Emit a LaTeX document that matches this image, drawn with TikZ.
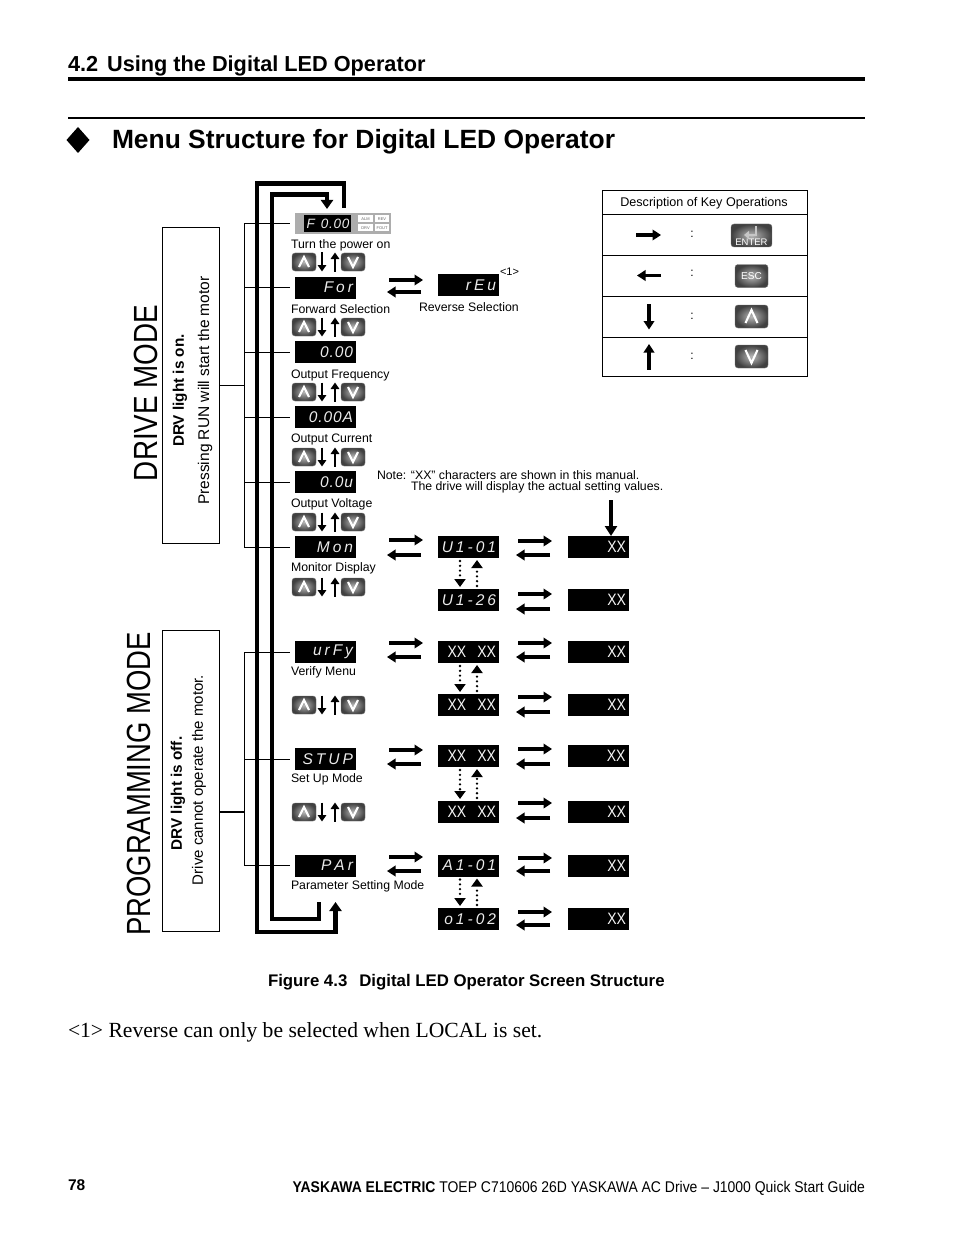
\documentclass[tikz,border=0pt]{standalone}
\usepackage{fontspec}
\setmainfont{Liberation Sans}
\newfontfamily\timesf{Liberation Serif}
\newfontfamily\segf[LetterSpace=6]{Liberation Sans}
\usetikzlibrary{arrows.meta,calc,shapes.geometric}
\newcommand{\fs}[1]{\fontsize{#1}{#1}\selectfont}
\newcommand{\sg}{\hspace{3pt}}
\newcommand{\XX}{\scalebox{.85}[1]{XX}}
\tikzset{
  every node/.style={inner sep=0pt,outer sep=0pt},
  lbl/.style={anchor=base west,font=\fs{12.3}},
  dispbox/.style={fill=black,text=black!8,anchor=west,minimum height=22pt,text width=55pt,inner xsep=3pt,align=right,font=\fs{15.5}\segf\itshape},
  xxbox/.style={fill=black,text=black!4,anchor=west,minimum height=22pt,text width=55pt,inner xsep=3pt,align=right,font=\fs{16.5}},
  keybox/.style={rounded corners=3pt,minimum width=24pt,minimum height=18pt,shading=radial,inner color=black!28,outer color=black!75,draw=black!55,line width=.4pt},
  chev/.style={white,line width=2.1pt,line join=miter},
  thinln/.style={line width=1pt,black},
  loopline/.style={line width=4.6pt,black,line join=miter},
  pairarr/.style={line width=4pt,-{Triangle[length=8.5pt,width=10.5pt]}},
  updown/.style={line width=2.4pt,-{Triangle[length=6.5pt,width=8.5pt]}},
  tabarr/.style={line width=3.2pt,-{Triangle[length=8.5pt,width=10.5pt]}},
  dotarr/.style={line width=2.6pt,dash pattern=on 0pt off 4.8pt,line cap=round,shorten >=2pt,shorten <=3pt,-{Triangle[length=8pt,width=11pt,sep=0pt]}},
  modelbl/.style={rotate=90,font=\fs{33.5}},
  smallbox/.style={font=\fs{4},fill=white,text=black!60,minimum width=14.5pt,minimum height=7pt},
}
\newcommand{\dsp}[4]{\node[dispbox] (#1) at (#2,#3) {#4\hspace{1.5pt}};}
\newcommand{\dxx}[4]{\node[xxbox] (#1) at (#2,#3) {#4};}
\newcommand{\keyup}[3]{\node[keybox,minimum width=33pt,minimum height=23pt] (#1) at (#2,#3) {};\draw[chev] ($(#1)+(-6,6.5)$) -- ($(#1)+(0,-6.5)$) -- ($(#1)+(6,6.5)$);}
\newcommand{\keydn}[3]{\node[keybox,minimum width=33pt,minimum height=23pt] (#1) at (#2,#3) {};\draw[chev] ($(#1)+(-6,-6.5)$) -- ($(#1)+(0,6.5)$) -- ($(#1)+(6,-6.5)$);}
\newcommand{\keyrow}[2]{%
  \node[keybox] (#1u) at (304,#2) {};
  \draw[chev] ($(#1u)+(-5,5)$) -- ($(#1u)+(0,-5)$) -- ($(#1u)+(5,5)$);
  \node[keybox] (#1d) at (353,#2) {};
  \draw[chev] ($(#1d)+(-5,-5)$) -- ($(#1d)+(0,5)$) -- ($(#1d)+(5,-5)$);
  \coordinate (#1a) at (322,#2-9.5);\coordinate (#1b) at (322,#2+9.5);
  \coordinate (#1c) at (335,#2+9.5);\coordinate (#1e) at (335,#2-9.5);
  \draw[updown] (#1a) -- (#1b);
  \draw[updown] (#1c) -- (#1e);}
\newcommand{\pairar}[4]{%
  \coordinate (#1a) at (#2+2,#3);\coordinate (#1b) at (#2+36,#3);
  \coordinate (#1c) at (#2+34,#4);\coordinate (#1d) at (#2,#4);
  \draw[pairarr] (#1a) -- (#1b);
  \draw[pairarr] (#1c) -- (#1d);}
\newcommand{\dotpair}[2]{%
  \draw[dotarr] ([xshift=-8.5pt]#1.south) -- ([xshift=-8.5pt]#2.north);
  \draw[dotarr] ([xshift=8.5pt]#2.north) -- ([xshift=8.5pt]#1.south);}
\begin{document}
\begin{tikzpicture}[x=1pt,y=-1pt]
\useasboundingbox (0,0) rectangle (954,1241);
\fill[white] (0,0) rectangle (954,1241);
% header
\node[anchor=base west,font=\fs{21.7}\bfseries] (sec) at (68,71.5) {4.2\hspace{9pt}Using the Digital LED Operator};
\coordinate (r1a) at (68,79.5);\coordinate (r1b) at (865,79.5);
\draw[line width=4pt] (r1a) -- (r1b);
\coordinate (r2a) at (68,118);\coordinate (r2b) at (865,118);
\draw[line width=2pt] (r2a) -- (r2b);
\node[diamond,fill=black,minimum width=23pt,minimum height=26pt] (dia) at (78,140) {};
\node[anchor=base west,font=\fs{26.4}\bfseries] (title) at (112,149) {Menu Structure for Digital LED Operator};
% mode boxes
\node[draw,line width=1pt,minimum width=57pt,minimum height=315pt,anchor=north west] (drvbox) at (162.5,228) {};
\node[draw,line width=1pt,minimum width=57pt,minimum height=301pt,anchor=north west] (prgbox) at (162.5,630.5) {};
\node[modelbl] (drvmode) at (146,393) {\scalebox{.83}[1]{DRIVE MODE}};
\node[modelbl] (prgmode) at (138.5,784) {\scalebox{.82}[1]{PROGRAMMING MODE}};
\node[rotate=90,font=\fs{15.3}\bfseries] (t1) at (180,390.5) {DRV light is on.};
\node[rotate=90,font=\fs{15.5}] (t2) at (205,390.5) {Pressing RUN will start the motor};
\node[rotate=90,font=\fs{15.3}\bfseries] (t3) at (178,793.5) {DRV light is off.};
\node[rotate=90,font=\fs{15}] (t4) at (199,780) {Drive cannot operate the motor.};
% displays column 1
\node[fill=black!32,minimum width=96pt,minimum height=21pt,anchor=west] (panel) at (295,223.5) {};
\node[dispbox,minimum height=17pt,text width=44pt,inner xsep=1.5pt,font=\fs{13.5}\segf\itshape] (dF) at (304,223.5) {\mbox{F\hspace{6pt}0.00}};
\node[smallbox] (sa) at (365.5,219) {ALM};
\node[smallbox] (sb) at (382,219) {REV};
\node[smallbox] (sc) at (365.5,228) {DRV};
\node[smallbox] (sd) at (382,228) {FOUT};
\dsp{dFor}{295}{287.5}{F\sg o\sg r}
\dsp{dFrq}{295}{352}{0.00}
\dsp{dCur}{295}{417}{0.00A}
\dsp{dVlt}{295}{482}{0.0u}
\dsp{dMon}{295}{547}{M\sg o\sg n}
\dsp{dVer}{295}{652}{u\sg r\sg F\sg y}
\dsp{dSet}{295}{759}{S\sg T\sg U\sg P}
\dsp{dPar}{295}{865.5}{P\sg A\sg r}
% labels
\node[lbl] (l1) at (291,248) {Turn the power on};
\node[lbl] (l2) at (291,313) {Forward Selection};
\node[lbl] (l3) at (291,378) {Output Frequency};
\node[lbl] (l4) at (291,442) {Output Current};
\node[lbl] (l5) at (291,507) {Output Voltage};
\node[lbl] (l6) at (291,571) {Monitor Display};
\node[lbl] (l7) at (291,675) {Verify Menu};
\node[lbl] (l8) at (291,782) {Set Up Mode};
\node[lbl] (l9) at (291,889) {Parameter Setting Mode};
\node[lbl] (l10) at (419,311) {Reverse Selection};
\node[lbl,font=\fs{11}] (l11) at (500,275) {<1>};
\node[lbl] (n1) at (377,479.5) {Note: “XX” characters are shown in this manual.};
\node[lbl] (n2) at (411,490.5) {The drive will display the actual setting values.};
% key rows
\keyrow{ka}{262}\keyrow{kb}{327}\keyrow{kc}{392}\keyrow{kd}{457}\keyrow{ke}{522}\keyrow{kf}{587}\keyrow{kg}{705}\keyrow{kh}{812}
% column 2 and 3 displays
\dsp{rEv}{438}{285}{r\sg E\sg u}
\dsp{aM}{438}{547}{U\sg 1\sg -\sg 0\sg 1}
\dsp{bM}{438}{600}{U\sg 1\sg -\sg 2\sg 6}
\dxx{aV}{438}{652}{\XX\hspace{11pt}\XX\hspace{5pt}}
\dxx{bV}{438}{705}{\XX\hspace{11pt}\XX\hspace{5pt}}
\dxx{aS}{438}{756}{\XX\hspace{11pt}\XX\hspace{5pt}}
\dxx{bS}{438}{812}{\XX\hspace{11pt}\XX\hspace{5pt}}
\dsp{aP}{438}{865.5}{A\sg 1\sg -\sg 0\sg 1}
\dsp{bP}{438}{919}{o\sg 1\sg -\sg 0\sg 2}
\dxx{cM}{568}{547}{\XX\hspace{4pt}}
\dxx{dM}{568}{600}{\XX\hspace{4pt}}
\dxx{cV}{568}{652}{\XX\hspace{4pt}}
\dxx{dV}{568}{705}{\XX\hspace{4pt}}
\dxx{cS}{567.5}{756}{\XX\hspace{4pt}}
\dxx{dS}{568}{812}{\XX\hspace{4pt}}
\dxx{cP}{568}{866}{\XX\hspace{4pt}}
\dxx{dP}{568}{919}{\XX\hspace{4pt}}
% pairs
\pairar{p1}{387}{280}{292}
\pairar{p2}{387}{540}{555}
\pairar{p3}{387}{643}{657}
\pairar{p4}{387}{750}{764}
\pairar{p5}{387}{857}{871}
\pairar{q1}{516}{541}{555}
\pairar{q2}{516}{594}{609}
\pairar{q3}{516}{643}{657}
\pairar{q4}{516}{697}{712}
\pairar{q5}{516}{749}{764}
\pairar{q6}{516}{803}{818}
\pairar{q7}{516}{858}{871}
\pairar{q8}{516}{912}{925}
% dotted
\dotpair{aM}{bM}
\dotpair{aV}{bV}
\dotpair{aS}{bS}
\dotpair{aP}{bP}
% note arrow
\coordinate (notetop) at (611,500);
\draw[line width=3.6pt,-{Triangle[length=10pt,width=12pt]}] (notetop) -- (notetop |- cM.north);
% brackets
\coordinate (busA) at (244,385);
\coordinate (busB) at (244,812);
\draw[line width=1pt] (drvbox.east |- busA) -- (busA);
\draw[line width=1.8pt] (prgbox.east |- busB) -- (busB);
\draw[thinln] (busA |- panel) -- (busA |- dMon);
\draw[thinln] (busB |- dVer) -- (busB |- dPar);
\foreach \n in {panel,dFor,dFrq,dCur,dVlt,dMon}{\draw[thinln,shorten >=5pt] (busA |- \n) -- (\n.west);}
\foreach \n in {dVer,dSet,dPar}{\draw[thinln,shorten >=5pt] (busB |- \n) -- (\n.west);}
% loop lines
\coordinate (o1) at (344,208);\coordinate (o2) at (344,183.5);\coordinate (o3) at (257,183.5);\coordinate (o4) at (257,932);\coordinate (o5) at (335.5,932);\coordinate (o6) at (335.5,902);
\draw[loopline,-{Triangle[length=9pt,width=12pt]}] (o1) -- (o2) -- (o3) -- (o4) -- (o5) -- (o6);
\coordinate (i1) at (319,902);\coordinate (i2) at (319,919);\coordinate (i3) at (272,919);\coordinate (i4) at (272,194.5);\coordinate (i5) at (327,194.5);\coordinate (i6) at (327,209);
\draw[loopline,-{Triangle[length=9pt,width=12pt]}] (i1) -- (i2) -- (i3) -- (i4) -- (i5) -- (i6);
% key table
\node[draw,line width=1pt,minimum width=205pt,minimum height=186pt,anchor=north west] (tbl) at (602.5,190.5) {};
\foreach \y/\m in {214.5/a,255.5/b,296.5/c,337/d}{\coordinate (tl\m) at (700,\y);\draw[line width=1pt] (tbl.west |- tl\m) -- (tbl.east |- tl\m);}
\node[font=\fs{12.6}] (thead) at (704,203.5) {Description of Key Operations};
\coordinate (a1) at (636,235);\coordinate (a2) at (661,235);
\coordinate (a3) at (661,275.5);\coordinate (a4) at (637,275.5);
\coordinate (a5) at (649,304);\coordinate (a6) at (649,329.5);
\coordinate (a7) at (649,369.5);\coordinate (a8) at (649,344);
\draw[tabarr] (a1) -- (a2);\draw[tabarr] (a3) -- (a4);\draw[tabarr] (a5) -- (a6);\draw[tabarr] (a7) -- (a8);
\node[font=\fs{12}] (c1) at (692,234) {:};
\node[font=\fs{12}] (c2) at (692,273) {:};
\node[font=\fs{12}] (c3) at (692,316) {:};
\node[font=\fs{12}] (c4) at (692,356) {:};
\node[keybox,minimum width=41pt,minimum height=23pt] (kEnter) at (751.5,235.5) {};
\draw[black!22,line width=2.6pt,-{Triangle[length=5pt,width=8pt]}] (756,226.5) -- (756,235) -- (744,235);
\node[white,font=\fs{9.5}] (tEnter) at (751.5,242.5) {ENTER};
\node[keybox,minimum width=33pt,minimum height=23pt] (kEsc) at (751.5,276) {};
\node[white,font=\fs{10}] (tEsc) at (751.5,276.5) {ESC};
\keyup{kUp}{751.5}{316.5}
\keydn{kDn}{751.5}{356.5}
% caption, note and footer
\node[anchor=base west,font=\fs{16.8}\bfseries] (cap) at (268,986) {Figure 4.3\hspace{12pt}Digital LED Operator Screen Structure};
\node[anchor=base west,font=\fs{21.6}\timesf] (foot) at (68,1037) {<1> Reverse can only be selected when LOCAL is set.};
\node[anchor=base west,font=\fs{15.5}\bfseries] (pg) at (68,1190.5) {78};
\node[anchor=base east,font=\fs{15.5}] (ft) at (865,1192.5) {\scalebox{.9}[1]{\textbf{YASKAWA ELECTRIC} TOEP C710606 26D YASKAWA AC Drive – J1000 Quick Start Guide}};
\end{tikzpicture}
\end{document}
